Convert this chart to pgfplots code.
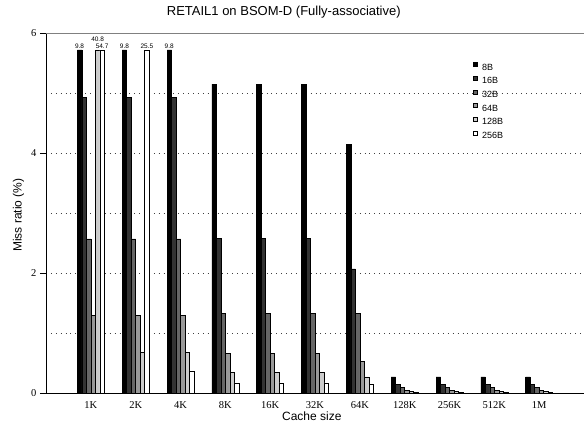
\documentclass[border=0pt]{standalone}
\usepackage{fontspec}
\setmainfont{Liberation Sans}
\newfontfamily\serifnum{Liberation Serif}
\usepackage{pgfplots}
\usepackage{pgfplotstable}
\pgfplotsset{compat=1.18}

% Miss ratio (%) per cache size (rows) and block size (columns);
% l* columns carry the printed value of bars that run off the top
\pgfplotstableread{
x  b8    b16   b32   b64   b128  b256   l8   l128  l256
0  9.8   4.93  2.57  1.29  40.8  54.7   9.8  40.8  54.7
1  9.8   4.93  2.57  1.29  0.68  25.5   9.8  {}    25.5
2  9.8   4.93  2.57  1.29  0.68  0.37   9.8  {}    {}
3  5.15  2.58  1.33  0.66  0.34  0.17   {}   {}    {}
4  5.15  2.58  1.33  0.66  0.34  0.17   {}   {}    {}
5  5.15  2.58  1.33  0.66  0.34  0.17   {}   {}    {}
6  4.15  2.07  1.33  0.53  0.27  0.14   {}   {}    {}
7  0.27  0.15  0.09  0.05  0.03  0.015  {}   {}    {}
8  0.27  0.15  0.09  0.05  0.03  0.015  {}   {}    {}
9  0.27  0.15  0.09  0.05  0.03  0.015  {}   {}    {}
10 0.27  0.15  0.09  0.05  0.03  0.015  {}   {}    {}
}\missdata

\begin{document}
\begin{tikzpicture}
\begin{axis}[
  at={(46pt,39pt)}, anchor=south west,
  scale only axis, width=538pt, height=360pt,
  xmin=-1, xmax=11, ymin=0, ymax=6,
  ybar=0pt, bar width=4.5pt,
  % bars taller than the plot are cut short and labelled with their value
  y filter/.expression={min(y,5.72)},
  axis lines*=left,
  axis line style={line width=0.8pt, black},
  tick align=outside,
  major tick length=6pt,
  xtick={0,1,...,10},
  xticklabels={1K,2K,4K,8K,16K,32K,64K,128K,256K,512K,1M},
  xtick style={draw=none},
  xticklabel style={font=\fontsize{10.5}{10.5}\selectfont\serifnum, anchor=base, yshift=-9.3pt},
  ytick={0,2,4,6},
  minor ytick={1,3,5},
  minor tick length=0pt,
  ytick style={line width=0.8pt, black},
  yticklabel style={font=\fontsize{10.5}{10.5}\selectfont\serifnum},
  /pgf/number format/assume math mode=true,
  ymajorgrids, yminorgrids,
  grid style={black!75, line width=0.7pt, dash pattern=on 0.7pt off 4.2pt},
  title={RETAIL1 on BSOM-D (Fully-associative)},
  title style={at={(0.442,1)}, anchor=base, yshift=11.5pt, font=\fontsize{13}{14}\selectfont},
  xlabel={Cache size},
  xlabel style={at={(0.494,0)}, anchor=base, yshift=-27.5pt, font=\fontsize{12}{13}\selectfont},
  ylabel={Miss ratio (\%)},
  ylabel style={at={(-0.0452,0.494)}, anchor=base, rotate=0, font=\fontsize{12}{13}\selectfont},
  legend style={at={(0.793,0.9194)}, anchor=north west, draw=none, fill=none,
    inner sep=0pt, row sep=4.4pt, column sep=5pt,
    nodes={inner sep=0pt}, font=\fontsize{9}{9}\selectfont},
  legend cell align=left,
  legend image code/.code={\draw[#1, line width=0.4pt] (0pt,1.2pt) rectangle (4pt,5.2pt);},
  every node near coord/.append style={font=\fontsize{6.5}{6.5}\selectfont, inner sep=0.6pt, anchor=south},
  every axis plot/.append style={draw=black, line width=0.4pt},
  labelled/.style={nodes near coords, point meta=explicit symbolic},
]
\addplot[fill=black, labelled] table[x=x, y=b8, meta=l8] {\missdata};
\addplot[fill=black!80] table[x=x, y=b16] {\missdata};
\addplot[fill=black!60] table[x=x, y=b32] {\missdata};
\addplot[fill=black!40] table[x=x, y=b64] {\missdata};
\addplot[fill=black!20, labelled, nodes near coords style={yshift=7.5pt}]
  table[x=x, y=b128, meta=l128] {\missdata};
\addplot[fill=white, labelled] table[x=x, y=b256, meta=l256] {\missdata};
\legend{8B,16B,32B,64B,128B,256B}
\draw[black!50, line width=0.8pt] (rel axis cs:0,1) -- (rel axis cs:1,1);
\end{axis}
\pgfresetboundingbox
\path[use as bounding box] (0,0) rectangle (584pt,432pt);
\end{tikzpicture}
\end{document}
